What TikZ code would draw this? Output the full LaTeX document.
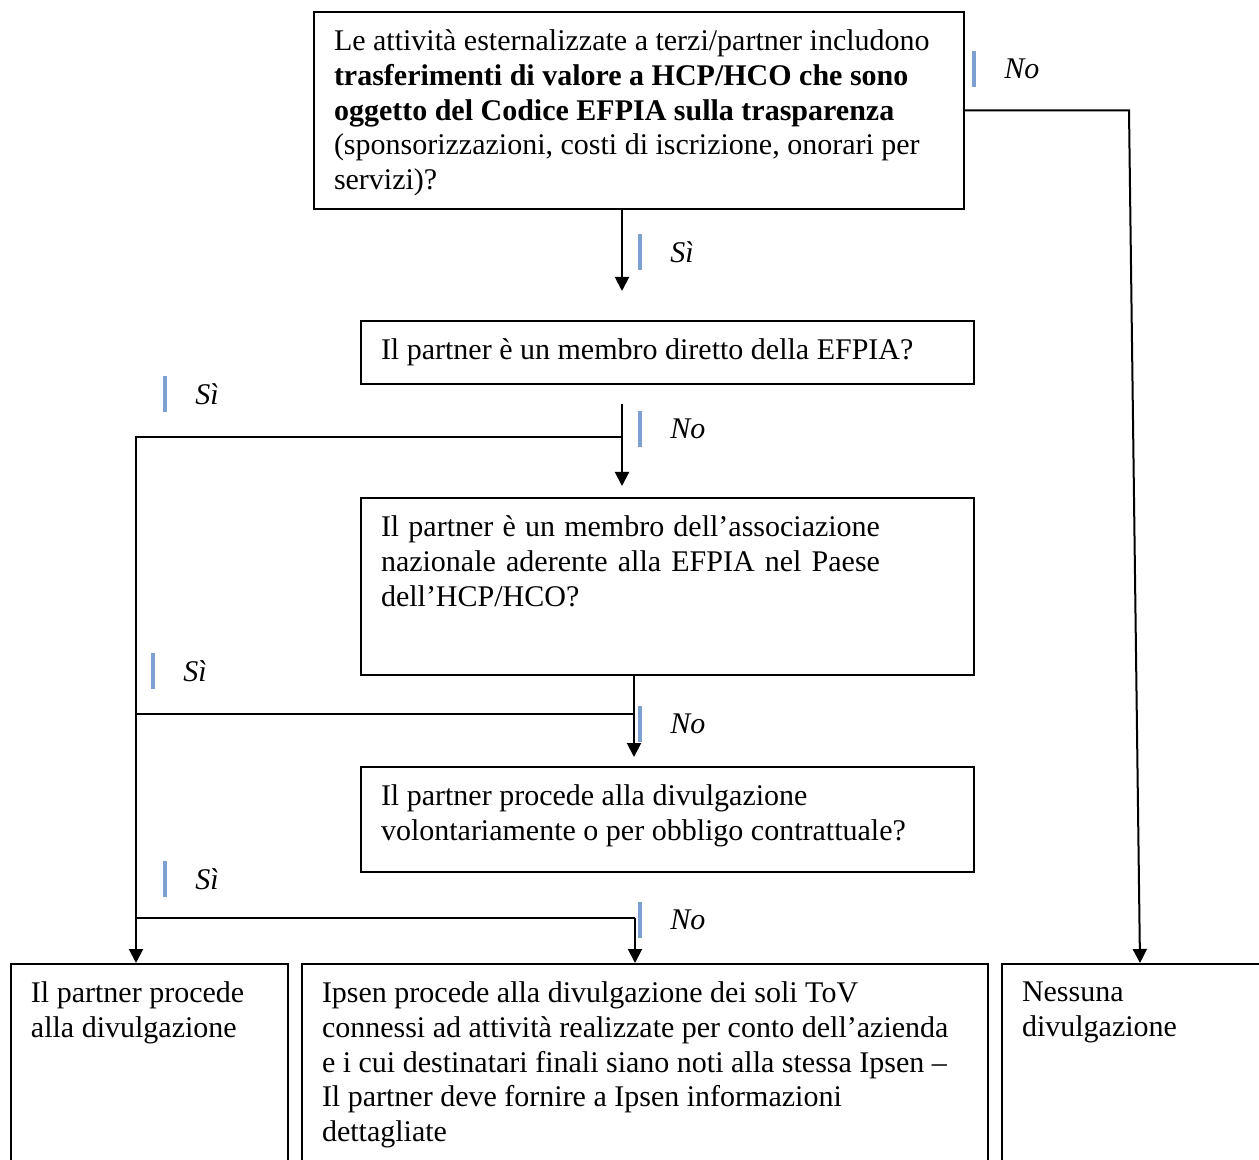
\documentclass[tikz,border=0pt]{standalone}
\usepackage{fontspec}
\setmainfont{Liberation Serif}
\usetikzlibrary{arrows.meta}
\definecolor{barblue}{RGB}{125,160,208}

\begin{document}
\begin{tikzpicture}[x=0.5pt,y=-0.5pt,
  font=\fontsize{15}{17.3}\selectfont,
  flowbox/.style={draw,line width=1pt,anchor=north west,inner xsep=10pt,inner ysep=9pt},
  answer/.style={font=\fontsize{15}{17.3}\selectfont\itshape,anchor=west,inner sep=0pt,minimum height=17.5pt},
  bar/.style={barblue,line width=2pt},
  arr/.style={line width=1pt,-{Triangle[width=7pt,length=7pt]}}]
\clip (0,0) rectangle (1259,1160);
% questions
\node[flowbox] (outsrc) at (313,11) {\parbox[t][80.5pt][t]{305pt}{\raggedright
  Le attività esternalizzate a terzi/partner includono\\
  \textbf{trasferimenti di valore a HCP/HCO che sono\\
  oggetto del Codice EFPIA sulla trasparenza}\\
  (sponsorizzazioni, costi di iscrizione, onorari per\\
  servizi)?}};
\node[flowbox] (direct) at (360,320) {\parbox[t][13.5pt][t]{286.5pt}{\raggedright
  Il partner è un membro diretto della EFPIA?}};
\node[flowbox] (national) at (360,497) {\parbox[t][70.5pt][t]{286.5pt}{\raggedright
  \makebox[249.5pt][s]{Il partner è un membro dell’associazione}\\
  \makebox[249.5pt][s]{nazionale aderente alla EFPIA nel Paese}\\
  dell’HCP/HCO?}};
\node[flowbox] (voluntary) at (360,766) {\parbox[t][34.5pt][t]{286.5pt}{\raggedright
  Il partner procede alla divulgazione\\
  volontariamente o per obbligo contrattuale?}};
% outcomes
\node[flowbox] (partnerdisc) at (10,963) {\parbox[t][130pt][t]{118.5pt}{\raggedright
  Il partner procede\\
  alla divulgazione}};
\node[flowbox] (ipsendisc) at (301,963) {\parbox[t][130pt][t]{323pt}{\raggedright
  Ipsen procede alla divulgazione dei soli ToV\\
  connessi ad attività realizzate per conto dell’azienda\\
  e i cui destinatari finali siano noti alla stessa Ipsen –\\
  Il partner deve fornire a Ipsen informazioni\\
  dettagliate}};
\node[flowbox] (nodisc) at (1001,963) {\parbox[t][130pt][t]{130pt}{\raggedright
  Nessuna\\
  divulgazione}};
% connectors
\coordinate (sitip) at (622,291);
\draw[arr] (outsrc.south -| sitip) -- (sitip);
\coordinate (notop) at (622,404);
\coordinate (notip) at (622,486);
\draw[arr] (notop) -- (notip);
\coordinate (lft) at (136,437);
\draw[arr] (notop |- lft) -- (lft) -- (lft |- partnerdisc.north);
\coordinate (natip) at (634,757);
\draw[arr] (national.south -| natip) -- (natip);
\coordinate (j3) at (634,714);
\draw[line width=1pt] (j3) -- (j3 -| lft);
\coordinate (j4) at (635,918);
\draw[arr] (j4) -- (j4 |- ipsendisc.north);
\draw[line width=1pt] (j4) -- (j4 -| lft);
\coordinate (c1) at (1129,0);
\coordinate (c2) at (1140,0);
\draw[arr] (outsrc.east) -- (outsrc.east -| c1) -- (c2 |- nodisc.north);
% answers
\node[answer] (no1) at (1004,69) {No};
\draw[bar] ([xshift=-15pt]no1.north west) -- ([xshift=-15pt]no1.south west);
\node[answer] (si1) at (670,252) {Sì};
\draw[bar] ([xshift=-15pt]si1.north west) -- ([xshift=-15pt]si1.south west);
\node[answer] (si2) at (195,394) {Sì};
\draw[bar] ([xshift=-15pt]si2.north west) -- ([xshift=-15pt]si2.south west);
\node[answer] (no2) at (670,429) {No};
\draw[bar] ([xshift=-15pt]no2.north west) -- ([xshift=-15pt]no2.south west);
\node[answer] (si3) at (183,671) {Sì};
\draw[bar] ([xshift=-15pt]si3.north west) -- ([xshift=-15pt]si3.south west);
\node[answer] (no3) at (670,724) {No};
\draw[bar] ([xshift=-15pt]no3.north west) -- ([xshift=-15pt]no3.south west);
\node[answer] (si4) at (195,879) {Sì};
\draw[bar] ([xshift=-15pt]si4.north west) -- ([xshift=-15pt]si4.south west);
\node[answer] (no4) at (670,920) {No};
\draw[bar] ([xshift=-15pt]no4.north west) -- ([xshift=-15pt]no4.south west);
\end{tikzpicture}
\end{document}
